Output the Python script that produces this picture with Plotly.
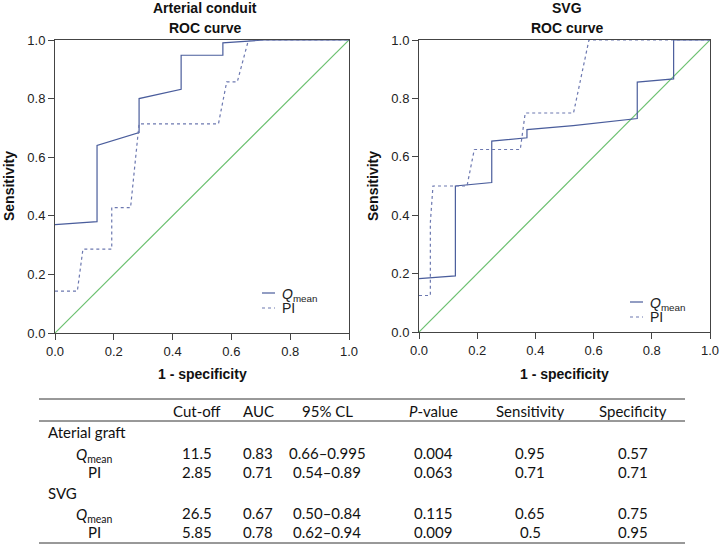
import plotly.graph_objects as go

W, H = 720, 545

# ---- ROC data ----
art_q_x = [0.0, 0.143, 0.143, 0.286, 0.286, 0.429, 0.429, 0.571, 0.571, 0.71, 1.0]
art_q_y = [0.37, 0.38, 0.64, 0.684, 0.80, 0.832, 0.948, 0.948, 0.99, 1.0, 1.0]
art_pi_x = [0.0, 0.076, 0.095, 0.193, 0.193, 0.257, 0.286, 0.556, 0.584, 0.62, 0.658, 1.0]
art_pi_y = [0.143, 0.143, 0.286, 0.286, 0.428, 0.428, 0.714, 0.714, 0.857, 0.857, 1.0, 1.0]

svg_q_x = [0.0, 0.125, 0.125, 0.25, 0.25, 0.371, 0.371, 0.53, 0.75, 0.75, 0.875, 0.875, 1.0]
svg_q_y = [0.183, 0.192, 0.50, 0.512, 0.654, 0.665, 0.693, 0.707, 0.731, 0.856, 0.867, 1.0, 1.0]
svg_pi_x = [0.0, 0.039, 0.039, 0.048, 0.165, 0.19, 0.348, 0.365, 0.531, 0.584, 1.0]
svg_pi_y = [0.125, 0.125, 0.375, 0.50, 0.50, 0.625, 0.625, 0.75, 0.75, 1.0, 1.0]

ref_x = [0, 1]
ref_y = [0, 1]

tick_vals = [0.0, 0.2, 0.4, 0.6, 0.8, 1.0]
tick_text = ["0.0", "0.2", "0.4", "0.6", "0.8", "1.0"]

legend_labels = ["<i>Q</i><sub>mean</sub>", "PI"]

# ---- table data ----
tbl_header = ["Cut-off", "AUC", "95% CL", "<i>P</i>-value", "Sensitivity", "Specificity"]
tbl_groups = ["Aterial graft", "SVG"]
tbl_rowlabels = ["<i>Q</i><sub>mean</sub>", "PI", "<i>Q</i><sub>mean</sub>", "PI"]
tbl_cutoff = ["11.5", "2.85", "26.5", "5.85"]
tbl_auc = ["0.83", "0.71", "0.67", "0.78"]
tbl_ci = ["0.66\u20130.995", "0.54\u20130.89", "0.50\u20130.84", "0.62\u20130.94"]
tbl_p = ["0.004", "0.063", "0.115", "0.009"]
tbl_sens = ["0.95", "0.71", "0.65", "0.5"]
tbl_spec = ["0.57", "0.71", "0.75", "0.95"]

QCOL = "#4a5d9c"
PICOL = "#6c78b0"
GREEN = "#6cc070"
AX = "#444444"

def px(x):
    return x / W

def py(y):
    return 1 - y / H

fig = go.Figure()

panels = [
    ("x", "y", art_q_x, art_q_y, art_pi_x, art_pi_y),
    ("x2", "y2", svg_q_x, svg_q_y, svg_pi_x, svg_pi_y),
]
for xa, ya, qx, qy, pxs, pys in panels:
    fig.add_trace(go.Scatter(x=ref_x, y=ref_y, mode="lines", xaxis=xa, yaxis=ya,
                             line=dict(color=GREEN, width=1.2), showlegend=False, hoverinfo="skip"))
    fig.add_trace(go.Scatter(x=qx, y=qy, mode="lines", xaxis=xa, yaxis=ya,
                             line=dict(color=QCOL, width=1.2), name="Qmean", showlegend=False))
    fig.add_trace(go.Scatter(x=pxs, y=pys, mode="lines", xaxis=xa, yaxis=ya,
                             line=dict(color=PICOL, width=1.2, dash="3px,3px"), name="PI", showlegend=False))

axis_common = dict(range=[0, 1], tickvals=tick_vals, ticktext=tick_text, showgrid=False,
                   zeroline=False, showline=True, linecolor=AX, linewidth=1, mirror=True,
                   ticks="outside", ticklen=6, tickcolor=AX, automargin=False,
                   tickfont=dict(family="Liberation Sans, Arial", size=13, color="#222"))

fig.update_layout(
    width=W, height=H, margin=dict(l=0, r=0, t=0, b=0, autoexpand=False),
    paper_bgcolor="white", plot_bgcolor="white",
    xaxis=dict(domain=[px(55), px(349)], anchor="y", **axis_common),
    yaxis=dict(domain=[py(333), py(40)], anchor="x", **axis_common),
    xaxis2=dict(domain=[px(419), px(710)], anchor="y2", **axis_common),
    yaxis2=dict(domain=[py(332), py(40)], anchor="x2", **axis_common),
    showlegend=False,
)

ann = []
shapes = []
tfont = dict(family="Liberation Sans, Arial", size=14, color="#111")
# panel titles
for cx, t1 in [(205, "Arterial conduit"), (567, "SVG")]:
    ann.append(dict(x=px(cx), y=py(8), text="<b>%s</b>" % t1, showarrow=False, xref="paper", yref="paper",
                    xanchor="center", yanchor="middle", font=tfont))
    ann.append(dict(x=px(cx), y=py(28), text="<b>ROC curve</b>", showarrow=False, xref="paper", yref="paper",
                    xanchor="center", yanchor="middle", font=tfont))
# axis titles
for cx in [9, 373]:
    ann.append(dict(x=px(cx), y=py(186), text="<b>Sensitivity</b>", showarrow=False, xref="paper",
                    yref="paper", xanchor="center", yanchor="middle", textangle=-90, font=tfont))
for cx in [202, 564]:
    ann.append(dict(x=px(cx), y=py(374), text="<b>1 - specificity</b>", showarrow=False, xref="paper",
                    yref="paper", xanchor="center", yanchor="middle", font=tfont))

# legends (drawn inside each panel)
lfont = dict(family="Liberation Sans, Arial", size=14, color="#222")
for (lx, ly0, dy) in [(262, 293, 15), (630, 302, 15)]:
    for k, (lab, col, dsh) in enumerate(zip(legend_labels, [QCOL, PICOL], ["solid", "dash"])):
        yy = ly0 + dy * k
        shapes.append(dict(type="line", xref="paper", yref="paper", x0=px(lx), x1=px(lx + 13),
                           y0=py(yy), y1=py(yy),
                           line=dict(color=col, width=1.2, dash="3px,3px" if dsh == "dash" else "solid")))
        ann.append(dict(x=px(lx + 18), y=py(yy + (2 if k == 0 else 0)), text=lab, showarrow=False,
                        xref="paper", yref="paper", xanchor="left", yanchor="middle", font=lfont))

# table
tabfont = dict(family="Lato, Carlito, sans-serif", size=15, color="#111")
col_x = [197, 258, 327, 433, 530, 633]
for cx, h in zip(col_x, tbl_header):
    ann.append(dict(x=px(cx), y=py(411), text=h, showarrow=False, xref="paper", yref="paper",
                    xanchor="center", yanchor="middle", font=tabfont))
group_y = [432, 493]
row_y = [453, 472, 513, 532]
for gy, g in zip(group_y, tbl_groups):
    ann.append(dict(x=px(46), y=py(gy), text=g, showarrow=False, xref="paper", yref="paper",
                    xanchor="left", yanchor="middle", font=tabfont))
cols = [tbl_cutoff, tbl_auc, tbl_ci, tbl_p, tbl_sens, tbl_spec]
for i, ry in enumerate(row_y):
    ann.append(dict(x=px(94), y=py(ry + (2 if i % 2 == 0 else 0)), text=tbl_rowlabels[i], showarrow=False,
                    xref="paper", yref="paper", xanchor="center", yanchor="middle", font=tabfont))
    for cx, col in zip(col_x, cols):
        ann.append(dict(x=px(cx), y=py(ry), text=col[i], showarrow=False, xref="paper", yref="paper",
                        xanchor="center", yanchor="middle", font=tabfont))

for ly in [399, 421, 543]:
    shapes.append(dict(type="line", xref="paper", yref="paper", x0=px(39), x1=px(685), y0=py(ly), y1=py(ly),
                       line=dict(color="#333", width=1)))

fig.update_layout(annotations=ann, shapes=shapes)
fig.write_html("out.html", config={"displayModeBar": False},
               post_script="document.body.style.margin='0';document.body.style.overflow='hidden';")
